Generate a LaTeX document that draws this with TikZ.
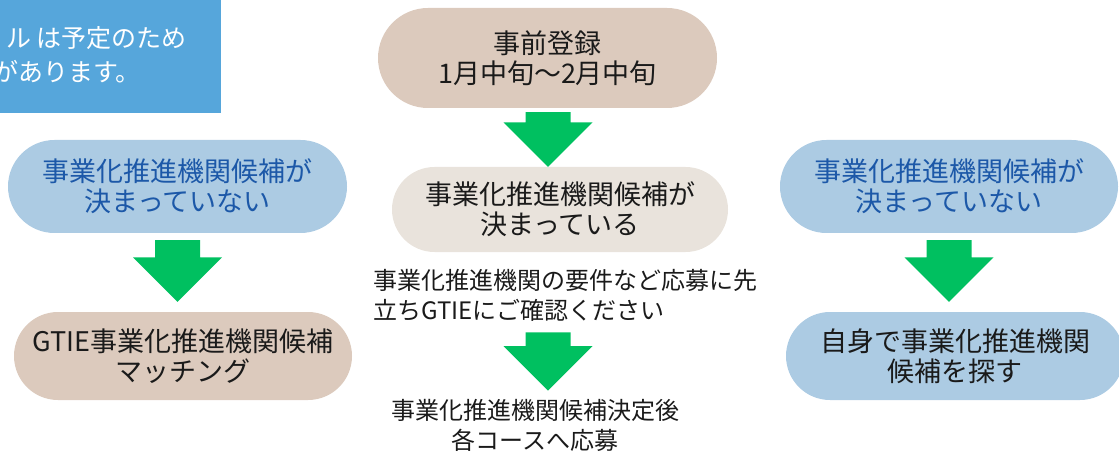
\documentclass[tikz,border=0pt]{standalone}
\usepackage{fontspec}
\setmainfont{Noto Sans CJK JP}
\usepackage{xcolor}
\usepackage{tikz}
\usetikzlibrary{calc}
\definecolor{noteblue}{RGB}{86,166,219}
\definecolor{pillblue}{RGB}{172,203,227}
\definecolor{pilltext}{RGB}{28,88,168}
\definecolor{pilltan}{RGB}{220,202,189}
\definecolor{pillsand}{RGB}{233,227,220}
\definecolor{flowgreen}{RGB}{0,192,96}
\definecolor{inkdark}{RGB}{26,26,26}
\tikzset{
  flowpill/.style = {rectangle, align=center, inner sep=0pt, text=inkdark,
                     font=\fontsize{27}{30}\selectfont},
  flowtan/.style  = {flowpill, fill=pilltan},
  flowsand/.style = {flowpill, fill=pillsand},
  flowblue/.style = {flowpill, fill=pillblue},
  flowhint/.style = {inner sep=0pt, text=inkdark, font=\fontsize{24}{30}\selectfont},
  flownote/.style = {inner sep=0pt, text=white, font=\fontsize{25}{34}\selectfont},
  flowdown/.style = {fill=flowgreen},
}
\newcommand{\flowarrow}[2]{%
  \fill[flowdown] ($(#1)+(-22.5,0)$) -- ($(#1)+(22.5,0)$) -- ($(#2)+(22.5,-44.5)$)
    -- ($(#2)+(44.5,-44.5)$) -- (#2) -- ($(#2)+(-44.5,-44.5)$)
    -- ($(#2)+(-22.5,-44.5)$) -- cycle;}

\begin{document}
\begin{tikzpicture}[x=1pt,y=-1pt]
  \useasboundingbox (0,0) rectangle (1119,473);
  \clip (0,0) rectangle (1119,473);

  \node[fill=noteblue, inner sep=0pt, minimum width=221pt, minimum height=113pt] (note) at (110.5,56.5) {};
  \node[flownote, anchor=east] (note1) at (187,38) {ル は予定のため};
  \node[flownote, anchor=east] (note2) at (141,72) {があります。};

  \node[flowtan, minimum width=339pt, minimum height=100pt, rounded corners=50pt] (reg) at (547.5,58) {事前登録\\1月中旬〜2月中旬};
  \node[flowsand, minimum width=336pt, minimum height=85pt, rounded corners=42.5pt] (decided) at (560,209.5) {事業化推進機関候補が\\決まっている};
  \node[flowhint, anchor=west, align=left] (confirm) at (373,295) {事業化推進機関の要件など応募に先\\立ちGTIEにご確認ください};
  \node[flowhint, align=center] (apply) at (535,425) {事業化推進機関候補決定後\\各コースへ応募};

  \node[flowblue, text=pilltext, minimum width=339pt, minimum height=93pt, rounded corners=46.5pt] (notdecL) at (177.5,186.5) {事業化推進機関候補が\\決まっていない};
  \node[flowtan, minimum width=338pt, minimum height=88pt, rounded corners=44pt] (match) at (183,356) {GTIE事業化推進機関候補\\マッチング};

  \node[flowblue, text=pilltext, minimum width=338pt, minimum height=93pt, rounded corners=46.5pt] (notdecR) at (949,186.5) {事業化推進機関候補が\\決まっていない};
  \node[flowblue, minimum width=338pt, minimum height=88pt, rounded corners=44pt] (search) at (955,356) {自身で事業化推進機関\\候補を探す};

  \coordinate (down1top) at ($(reg.south)+(0.5,4)$);
  \coordinate (down1tip) at ($(reg.south |- decided.north)+(0.5,0)$);
  \coordinate (downLtop) at ($(notdecL.south)+(0,7)$);
  \coordinate (downLtip) at ($(notdecL.south |- match.north)+(0,-10)$);
  \coordinate (downRtop) at ($(notdecR.south)+(0,7)$);
  \coordinate (downRtip) at ($(notdecR.south |- search.north)+(0,-10)$);
  \coordinate (down2top) at ($(confirm.south -| down1top)+(0,11)$);
  \coordinate (down2tip) at ($(apply.north -| down1top)+(0,-8)$);

  \flowarrow{down1top}{down1tip}
  \flowarrow{downLtop}{downLtip}
  \flowarrow{downRtop}{downRtip}
  \flowarrow{down2top}{down2tip}
\end{tikzpicture}
\end{document}
